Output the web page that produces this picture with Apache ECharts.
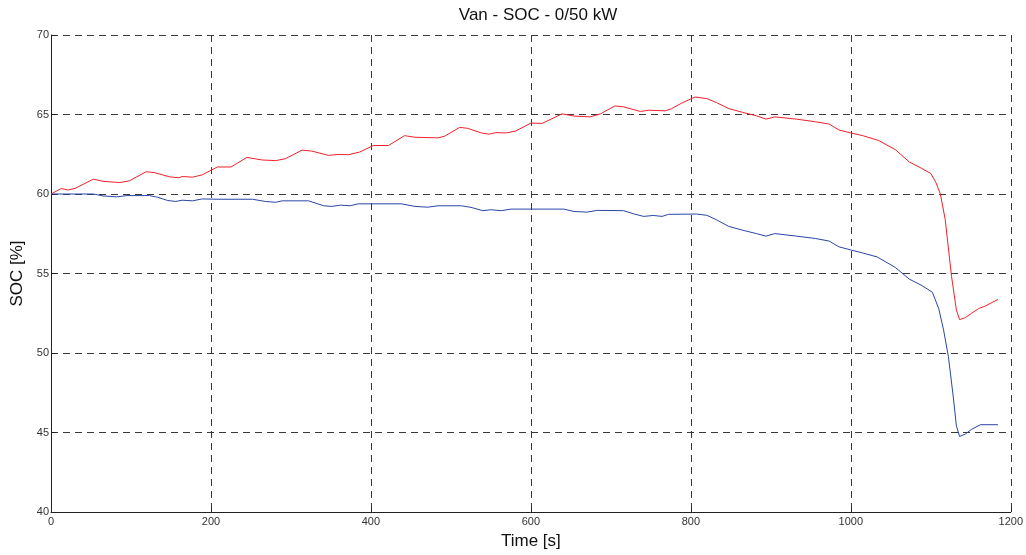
<!DOCTYPE html>
<html>
<head>
<meta charset="utf-8">
<script src="https://cdn.jsdelivr.net/npm/echarts@6/dist/echarts.min.js"></script>
<style>
 html,body{margin:0;padding:0;background:#fff;}
 #main{width:1026px;height:555px;}
</style>
</head>
<body>
<div id="main"></div>
<script>
 // red curve: time [s] / SOC [%]
 var redTime = [0, 13, 21, 30, 53, 65, 86, 98, 119, 129, 148, 160, 164, 177, 189, 208, 225, 245, 264, 281, 293, 314, 326, 347, 359, 372, 386, 403, 422, 442, 455, 484, 492, 511, 521, 538, 548, 556, 569, 581, 600, 614, 639, 654, 674, 687, 705, 716, 737, 747, 768, 776, 788, 805, 820, 832, 847, 865, 882, 894, 905, 932, 956, 973, 985, 1000, 1015, 1035, 1056, 1073, 1089, 1100, 1106, 1112, 1118, 1126, 1132, 1136, 1143, 1151, 1160, 1168, 1184];
 var redSoc = [60.0, 60.35, 60.25, 60.35, 60.93, 60.8, 60.72, 60.83, 61.4, 61.35, 61.08, 61.02, 61.1, 61.06, 61.2, 61.7, 61.7, 62.3, 62.14, 62.1, 62.22, 62.76, 62.7, 62.43, 62.49, 62.47, 62.64, 63.05, 63.05, 63.67, 63.57, 63.53, 63.63, 64.19, 64.13, 63.84, 63.76, 63.86, 63.84, 63.96, 64.46, 64.44, 65.04, 64.9, 64.85, 65.04, 65.54, 65.48, 65.19, 65.27, 65.23, 65.37, 65.7, 66.1, 66.0, 65.75, 65.38, 65.13, 64.92, 64.71, 64.85, 64.71, 64.54, 64.4, 64.03, 63.84, 63.67, 63.36, 62.78, 62.02, 61.6, 61.29, 60.77, 60.0, 58.4, 54.8, 52.7, 52.1, 52.22, 52.5, 52.8, 52.95, 53.37];
 // blue curve
 var blueTime = [0, 53, 65, 82, 95, 123, 133, 146, 156, 164, 177, 189, 210, 252, 268, 281, 289, 322, 341, 351, 362, 374, 384, 401, 438, 455, 471, 484, 513, 525, 540, 550, 563, 575, 641, 654, 670, 683, 716, 728, 741, 753, 764, 772, 807, 820, 832, 847, 865, 882, 894, 905, 932, 956, 973, 985, 1000, 1015, 1033, 1056, 1073, 1089, 1102, 1110, 1116, 1122, 1128, 1132, 1136, 1143, 1151, 1162, 1184];
 var blueSoc = [60.0, 60.0, 59.88, 59.82, 59.9, 59.9, 59.8, 59.59, 59.53, 59.61, 59.57, 59.69, 59.67, 59.67, 59.53, 59.48, 59.57, 59.57, 59.26, 59.22, 59.3, 59.26, 59.38, 59.38, 59.38, 59.22, 59.17, 59.26, 59.26, 59.16, 58.95, 59.01, 58.95, 59.05, 59.05, 58.9, 58.86, 58.97, 58.95, 58.76, 58.59, 58.65, 58.59, 58.72, 58.74, 58.66, 58.38, 57.97, 57.72, 57.51, 57.35, 57.51, 57.35, 57.2, 57.04, 56.68, 56.48, 56.29, 56.04, 55.37, 54.65, 54.24, 53.82, 52.78, 51.44, 49.78, 47.29, 45.42, 44.75, 44.9, 45.2, 45.49, 45.49];

 function pairs(t, v){
	var out = [];
	for (var i = 0; i < t.length; i++) { out.push([t[i], v[i]]); }
	return out;
 }

 var myChart = echarts.init(document.getElementById('main'));
 var gridLine = {
	show: true,
	lineStyle: { color: '#3a3a3a', width: 1, type: [7, 5] }
 };
 var option = {
	animation: false,
	title: {
		text: 'Van - SOC - 0/50 kW',
		left: 533,
		textAlign: 'center',
		top: 2,
		textStyle: { fontFamily: 'Liberation Sans', fontSize: 17, fontWeight: 'normal', color: '#111' }
	},
	grid: { left: 51, right: 9, top: 35, bottom: 38 },
	xAxis: {
		type: 'value',
		min: 0,
		max: 1200,
		interval: 200,
		name: 'Time [s]',
		nameLocation: 'middle',
		nameGap: 21,
		nameTextStyle: { fontFamily: 'Liberation Sans', fontSize: 17, color: '#111' },
		axisLine: { lineStyle: { color: '#222', width: 1 } },
		axisTick: { inside: true, length: 5, lineStyle: { color: '#222' } },
		axisLabel: {
			fontFamily: 'Liberation Sans', fontSize: 11, color: '#333', margin: 4,
			formatter: function (v) { return String(v); }
		},
		splitLine: gridLine
	},
	yAxis: {
		type: 'value',
		min: 40,
		max: 70,
		interval: 5,
		name: 'SOC [%]',
		nameLocation: 'middle',
		nameGap: 23,
		nameTextStyle: { fontFamily: 'Liberation Sans', fontSize: 17, color: '#111' },
		axisLine: { show: true, lineStyle: { color: '#222', width: 1 } },
		axisTick: { show: true, inside: true, length: 5, lineStyle: { color: '#222' } },
		axisLabel: { fontFamily: 'Liberation Sans', fontSize: 11, color: '#333', margin: 2 },
		splitLine: gridLine
	},
	series: [
		{
			name: 'red',
			type: 'line',
			showSymbol: false,
			lineStyle: { color: '#f0202a', width: 1 },
			data: pairs(redTime, redSoc)
		},
		{
			name: 'blue',
			type: 'line',
			showSymbol: false,
			lineStyle: { color: '#2845a8', width: 1 },
			data: pairs(blueTime, blueSoc)
		}
	]
 };
 myChart.setOption(option, true);
</script>
</body>
</html>
